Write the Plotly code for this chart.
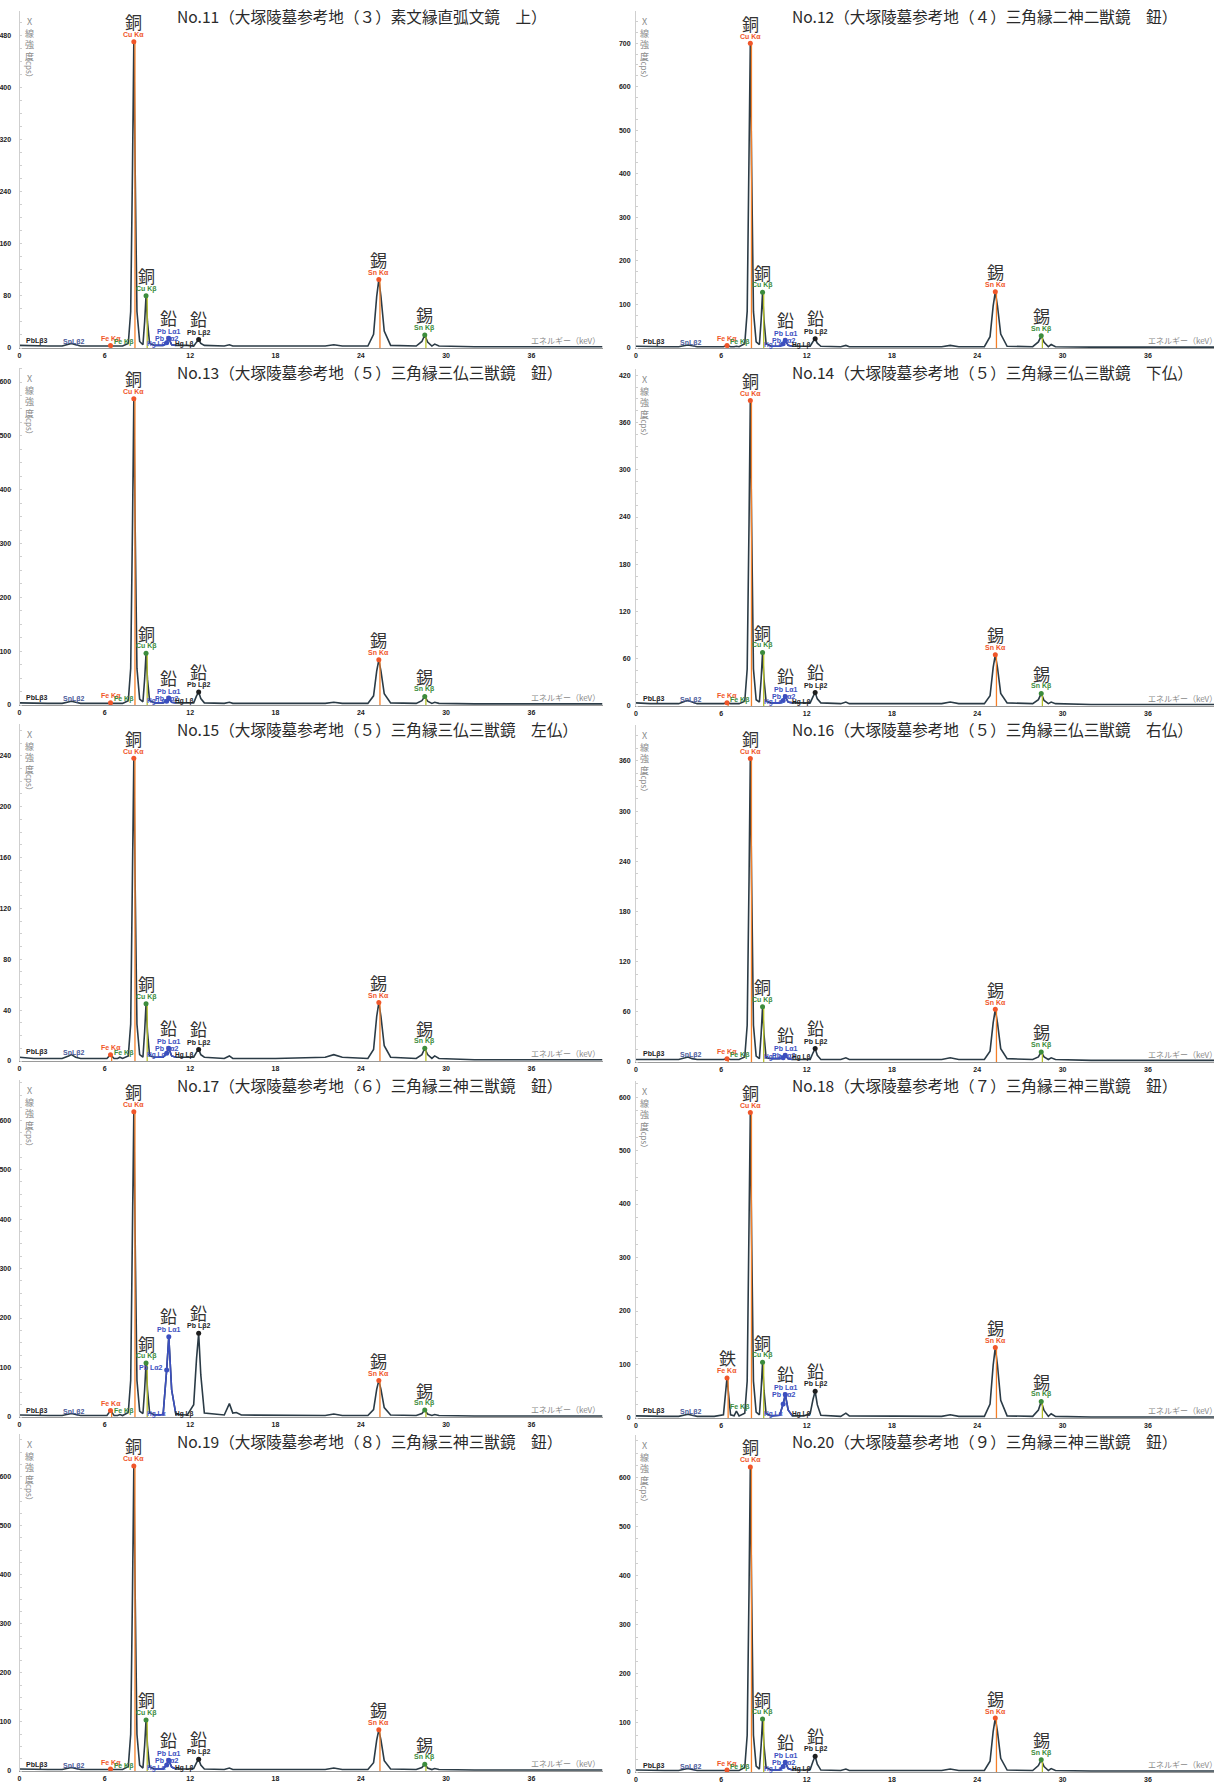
import plotly.graph_objects as go

FIG_W, FIG_H = 1216, 1783

# ---------------- data ----------------
titles = [
    "No.11（大塚陵墓参考地（３）素文縁直弧文鏡　上）",
    "No.12（大塚陵墓参考地（４）三角縁二神二獣鏡　鈕）",
    "No.13（大塚陵墓参考地（５）三角縁三仏三獣鏡　鈕）",
    "No.14（大塚陵墓参考地（５）三角縁三仏三獣鏡　下仏）",
    "No.15（大塚陵墓参考地（５）三角縁三仏三獣鏡　左仏）",
    "No.16（大塚陵墓参考地（５）三角縁三仏三獣鏡　右仏）",
    "No.17（大塚陵墓参考地（６）三角縁三神三獣鏡　鈕）",
    "No.18（大塚陵墓参考地（７）三角縁三神三獣鏡　鈕）",
    "No.19（大塚陵墓参考地（８）三角縁三神三獣鏡　鈕）",
    "No.20（大塚陵墓参考地（９）三角縁三神三獣鏡　鈕）",
]

energy_keV = [
    0.0, 1.0, 2.0, 3.0, 3.45, 3.65, 3.95, 4.3, 5.5, 6.15,
    6.40, 6.65, 6.90, 7.06, 7.25, 7.65, 7.82, 7.95, 8.04, 8.13,
    8.26, 8.45, 8.68, 8.80, 8.90, 9.00, 9.15, 9.5, 10.1, 10.35,
    10.50, 10.70, 11.0, 11.8, 12.25, 12.45, 12.60, 12.75, 13.0, 14.4,
    14.76, 15.0, 15.25, 15.6, 18.0, 21.5, 22.1, 22.7, 24.5, 24.9,
    25.12, 25.27, 25.42, 25.65, 26.1, 27.9, 28.3, 28.5, 28.7, 29.0,
    29.2, 29.5, 32.0, 41.0,
]

counts_No11 = [4, 3, 3, 3, 6, 7, 5, 3, 3, 3, 4, 3, 3, 3, 3, 7, 56, 282, 470, 282,
               56, 10, 5, 40, 80, 40, 7, 4, 4, 8, 15, 5, 4, 4, 3, 9, 13, 7, 4, 3,
               5, 3, 3, 3, 3, 3, 5, 3, 3, 21, 79, 105, 79, 26, 4, 3, 10, 20, 9, 3,
               6, 3, 2, 2]
counts_No12 = [4, 3, 3, 3, 6, 7, 5, 3, 3, 3, 6, 3, 3, 4, 3, 10, 84, 420, 700, 420,
               84, 14, 8, 64, 128, 64, 10, 4, 4, 10, 18, 6, 4, 4, 4, 15, 21, 11, 4, 3,
               6, 3, 3, 3, 3, 3, 6, 3, 3, 26, 97, 129, 97, 32, 4, 3, 14, 28, 13, 3,
               8, 3, 2, 2]
counts_No13 = [4, 3, 3, 3, 6, 7, 5, 3, 3, 3, 4, 3, 3, 3, 3, 8, 68, 341, 569, 341,
               68, 11, 6, 48, 96, 48, 8, 4, 4, 7, 13, 5, 4, 4, 4, 17, 24, 12, 4, 3,
               5, 3, 3, 3, 3, 3, 5, 3, 3, 17, 63, 84, 63, 21, 4, 3, 8, 16, 7, 3,
               5, 3, 2, 2]
counts_No14 = [4, 3, 3, 3, 6, 7, 5, 3, 3, 3, 4, 3, 3, 3, 3, 6, 47, 233, 388, 233,
               47, 8, 5, 34, 68, 34, 6, 4, 4, 7, 12, 5, 4, 4, 4, 12, 17, 9, 4, 3,
               5, 3, 3, 3, 3, 3, 5, 3, 3, 13, 49, 65, 49, 16, 4, 3, 8, 16, 7, 3,
               5, 3, 2, 2]
counts_No15 = [3, 2, 2, 2, 4, 5, 3, 2, 2, 2, 5, 2, 2, 3, 2, 4, 29, 143, 238, 143,
               29, 5, 3, 23, 45, 23, 4, 3, 3, 6, 10, 4, 3, 3, 3, 7, 9, 5, 3, 2,
               4, 2, 2, 2, 2, 3, 5, 3, 2, 9, 35, 46, 35, 12, 3, 2, 5, 10, 5, 2,
               4, 2, 1, 1]
counts_No16 = [3, 3, 3, 3, 5, 6, 4, 3, 3, 3, 4, 3, 3, 3, 3, 6, 44, 218, 363, 218,
               44, 7, 4, 33, 66, 33, 5, 4, 4, 5, 8, 4, 3, 3, 3, 11, 16, 8, 3, 3,
               5, 3, 3, 3, 3, 3, 5, 3, 3, 13, 47, 63, 47, 16, 4, 3, 6, 12, 6, 3,
               5, 3, 2, 2]
counts_No17 = [4, 3, 3, 3, 6, 7, 5, 3, 3, 3, 13, 3, 3, 5, 3, 9, 74, 370, 617, 370,
               74, 12, 7, 55, 109, 55, 9, 4, 5, 95, 162, 55, 5, 4, 25, 118, 169, 85, 8, 4,
               27, 8, 9, 4, 3, 3, 6, 3, 3, 15, 56, 74, 56, 19, 4, 3, 7, 14, 6, 3,
               5, 3, 2, 2]
counts_No18 = [4, 3, 3, 3, 6, 7, 5, 3, 3, 6, 75, 6, 4, 13, 4, 9, 69, 343, 571, 343,
               69, 11, 6, 52, 104, 52, 8, 4, 5, 26, 44, 15, 4, 4, 8, 35, 50, 25, 5, 3,
               9, 4, 4, 3, 3, 3, 6, 3, 3, 26, 99, 132, 99, 33, 4, 3, 15, 31, 14, 3,
               8, 3, 2, 2]
counts_No19 = [4, 3, 3, 3, 6, 7, 5, 3, 3, 3, 4, 3, 3, 3, 3, 9, 75, 373, 622, 373,
               75, 12, 6, 52, 104, 52, 8, 4, 4, 12, 22, 8, 4, 4, 5, 17, 24, 12, 4, 3,
               6, 3, 3, 3, 3, 3, 6, 3, 3, 17, 63, 84, 63, 21, 4, 3, 7, 14, 6, 3,
               5, 3, 2, 2]
counts_No20 = [4, 3, 3, 3, 6, 7, 5, 3, 3, 3, 4, 3, 3, 3, 3, 9, 75, 373, 622, 373,
               75, 12, 6, 54, 108, 54, 9, 4, 4, 11, 20, 7, 4, 4, 5, 22, 32, 16, 4, 3,
               6, 3, 3, 3, 3, 3, 6, 3, 3, 22, 83, 110, 83, 28, 4, 3, 13, 25, 11, 3,
               7, 3, 2, 2]

spectra = [counts_No11, counts_No12, counts_No13, counts_No14, counts_No15,
           counts_No16, counts_No17, counts_No18, counts_No19, counts_No20]

# characteristic line energies (keV)
E_FE_KA, E_FE_KB = 6.40, 7.06
E_CU_KA, E_CU_KB = 8.04, 8.90
E_PB_LA1, E_PB_LA2, E_PB_LB = 10.50, 10.35, 12.60
E_SN_KA, E_SN_KB = 25.27, 28.50

# peak heights (cps) per panel
cu_ka_cps = [470, 700, 569, 388, 238, 363, 617, 571, 622, 622]
cu_kb_cps = [80, 128, 96, 68, 45, 66, 109, 104, 104, 108]
pb_la1_cps = [15, 18, 13, 12, 10, 8, 162, 44, 22, 20]
pb_la2_cps = [8, 10, 7, 7, 6, 5, 95, 26, 12, 11]
pb_lb_cps = [13, 21, 24, 17, 9, 16, 169, 50, 24, 32]
sn_ka_cps = [105, 129, 84, 65, 46, 63, 74, 132, 84, 110]
sn_kb_cps = [20, 28, 16, 16, 10, 12, 14, 31, 14, 25]
fe_ka_cps = [4, 6, 4, 4, 5, 4, 13, 75, 4, 4]
fe_kb_cps = [3, 4, 3, 3, 3, 3, 5, 13, 3, 3]

# y axis tick scheme per panel
y_tick_top = [480, 700, 600, 420, 240, 360, 600, 600, 600, 600]
y_tick_step = [80, 100, 100, 60, 40, 60, 100, 100, 100, 100]
x_ticks = [0, 6, 12, 18, 24, 30, 36]

# ---------------- layout geometry (pixels) ----------------
y_axis_max = [517, 774, 626, 428, 265, 403, 681, 630, 687, 687]
baseline_px = [348, 348, 705, 706, 1061, 1062, 1417, 1418, 1771, 1772]
title_px = [16, 16, 372, 372, 729, 729, 1085, 1085, 1441, 1441]
PLOT_H = 337
LEFT_X0, LEFT_X1, LEFT_XMAX = 19.5, 602.5, 41.0
RIGHT_X0, RIGHT_X1, RIGHT_XMAX = 636.0, 1214.0, 40.65

LINE_COL = "#2b3b46"
KA_COL = "#f0562a"
KB_COL = "#3c8c3c"
PB_A_COL = "#3b4fbf"
PB_B_COL = "#1e1e1e"
VL_KA = "#f5802a"
VL_KB = "#b8c12a"
GREY = "#8a8a8a"
JP = "Noto Sans CJK JP"
SMALL = "Liberation Sans, Arial"

fig = go.Figure()
annotations = []
layout_axes = {}


def axnames(i):
    return ("x" if i == 0 else f"x{i+1}"), ("y" if i == 0 else f"y{i+1}")


def px_x(p):
    return p / FIG_W


def px_y(p):
    return 1 - p / FIG_H


for i in range(10):
    xr, yr = axnames(i)
    left = (i % 2 == 0)
    x0, x1, xmax = (LEFT_X0, LEFT_X1, LEFT_XMAX) if left else (RIGHT_X0, RIGHT_X1, RIGHT_XMAX)
    b = baseline_px[i]
    xkey = "xaxis" if i == 0 else f"xaxis{i+1}"
    ykey = "yaxis" if i == 0 else f"yaxis{i+1}"
    layout_axes[xkey] = dict(
        domain=[px_x(x0), px_x(x1)], range=[0, xmax], anchor=yr,
        tickvals=x_ticks, ticktext=[f"<b>{t}</b>" for t in x_ticks],
        tickfont=dict(size=7, color="#222", family=SMALL),
        showgrid=False, zeroline=False, showline=True, linecolor="#9a9a9a",
        linewidth=1, ticks="", ticklabelstandoff=1, fixedrange=True, automargin=False,
    )
    tv = list(range(0, y_tick_top[i] + 1, y_tick_step[i]))
    layout_axes[ykey] = dict(
        domain=[px_y(b), px_y(b - PLOT_H)], range=[0, y_axis_max[i]], anchor=xr,
        tickvals=tv, ticktext=[f"<b>{t}</b>" for t in tv],
        tickfont=dict(size=7, color="#222", family=SMALL),
        showgrid=False, zeroline=False, showline=True, linecolor="#cfcfcf",
        linewidth=1, ticks="", ticklabelstandoff=(6 if left else 3),
        minor=dict(ticks="inside", ticklen=2, tickcolor="#cfcfcf", dtick=y_tick_step[i] / 4),
        fixedrange=True, automargin=False,
    )

    spec = spectra[i]
    # spectrum
    fig.add_trace(go.Scatter(x=energy_keV, y=spec, mode="lines",
                             line=dict(color=LINE_COL, width=1.6),
                             xaxis=xr, yaxis=yr, showlegend=False, hoverinfo="skip"))
    # blue overlay on Pb L-alpha region
    fig.add_trace(go.Scatter(x=energy_keV[27:33], y=spec[27:33], mode="lines",
                             line=dict(color=PB_A_COL, width=1.6),
                             xaxis=xr, yaxis=yr, showlegend=False, hoverinfo="skip"))
    # vertical line markers for identified lines
    for e, h, c in [(E_CU_KA, cu_ka_cps[i], VL_KA), (E_CU_KB, cu_kb_cps[i], VL_KB),
                    (E_SN_KA, sn_ka_cps[i], VL_KA), (E_SN_KB, sn_kb_cps[i], VL_KB),
                    (E_FE_KA, fe_ka_cps[i], VL_KA)]:
        fig.add_trace(go.Scatter(x=[e + 0.08, e + 0.08], y=[0, h], mode="lines",
                                 line=dict(color=c, width=1.3),
                                 xaxis=xr, yaxis=yr, showlegend=False, hoverinfo="skip"))
    # peak dots
    fig.add_trace(go.Scatter(
        x=[E_CU_KA, E_CU_KB, E_PB_LA1, E_PB_LA2, E_PB_LB, E_SN_KA, E_SN_KB, E_FE_KA],
        y=[cu_ka_cps[i], cu_kb_cps[i], pb_la1_cps[i], pb_la2_cps[i], pb_lb_cps[i],
           sn_ka_cps[i], sn_kb_cps[i], fe_ka_cps[i]],
        mode="markers",
        marker=dict(size=5, color=[KA_COL, KB_COL, PB_A_COL, PB_A_COL, PB_B_COL,
                                   KA_COL, KB_COL, KA_COL]),
        xaxis=xr, yaxis=yr, showlegend=False, hoverinfo="skip"))

    def ann(x, y, text, color, size, yshift=0, xshift=0, family=SMALL, xanchor="center"):
        annotations.append(dict(x=x, y=y, xref=xr, yref=yr, text=text, showarrow=False,
                                font=dict(color=color, size=size, family=family),
                                yshift=yshift, xshift=xshift, xanchor=xanchor,
                                yanchor="middle"))

    # line labels
    ann(E_CU_KA, cu_ka_cps[i], "<b>Cu Kα</b>", KA_COL, 7, yshift=7)
    ann(E_CU_KA, cu_ka_cps[i], "銅", "#333", 17, yshift=20, family=JP)
    ann(E_CU_KB, cu_kb_cps[i], "<b>Cu Kβ</b>", KB_COL, 7, yshift=7)
    ann(E_CU_KB, cu_kb_cps[i], "銅", "#333", 17, yshift=20, family=JP)
    ann(E_PB_LA1, pb_la1_cps[i], "<b>Pb Lα1</b>", PB_A_COL, 7, yshift=7)
    if pb_la1_cps[i] - pb_la2_cps[i] > 40:
        ann(E_PB_LA2, pb_la2_cps[i], "<b>Pb Lα2</b>", PB_A_COL, 7, yshift=2,
            xshift=-3, xanchor="right")
    else:
        ann(E_PB_LA1, pb_la1_cps[i], "<b>Pb Lα2</b>", PB_A_COL, 7, yshift=0, xshift=-2)
    ann(E_PB_LA1, pb_la1_cps[i], "鉛", "#333", 17, yshift=21, family=JP)
    ann(E_PB_LB, pb_lb_cps[i], "<b>Pb Lβ2</b>", PB_B_COL, 7, yshift=7)
    ann(E_PB_LB, pb_lb_cps[i], "鉛", "#333", 17, yshift=21, family=JP)
    ann(E_SN_KA, sn_ka_cps[i], "<b>Sn Kα</b>", KA_COL, 7, yshift=7)
    ann(E_SN_KA, sn_ka_cps[i], "錫", "#333", 17, yshift=20, family=JP)
    ann(E_SN_KB, sn_kb_cps[i], "<b>Sn Kβ</b>", KB_COL, 7, yshift=7)
    ann(E_SN_KB, sn_kb_cps[i], "錫", "#333", 17, yshift=20, family=JP)
    ann(E_FE_KA, fe_ka_cps[i], "<b>Fe Kα</b>", KA_COL, 7, yshift=7)
    ann(E_FE_KB, fe_kb_cps[i], "<b>Fe Kβ</b>", KB_COL, 7, yshift=4, xshift=4)
    if fe_ka_cps[i] > 40:
        ann(E_FE_KA, fe_ka_cps[i], "鉄", "#333", 17, yshift=20, family=JP)
    # small baseline labels
    ann(1.2, 3, "<b>PbLβ3</b>", "#222", 7, yshift=5)
    ann(3.8, 3, "<b>SnLβ2</b>", "#4a5a9a", 7, yshift=4)
    ann(9.6, 3, "<b>Hg Lα</b>", PB_A_COL, 6.5, yshift=2)
    ann(11.6, 3, "<b>Hg Lβ</b>", "#222", 6.5, yshift=2)
    # energy axis caption
    ann(38.4, 0, "エネルギー（keV）", GREY, 8, yshift=8, family=JP)

    # y axis caption (vertical)
    cap_x = (x0 + 10) if left else (x0 + 8)
    annotations.append(dict(x=px_x(cap_x), y=px_y(b - PLOT_H + 2), xref="paper", yref="paper",
                            text="X<br>線<br>強<br>度", showarrow=False, xanchor="center",
                            yanchor="top", font=dict(size=9, color=GREY, family=JP)))
    annotations.append(dict(x=px_x(cap_x), y=px_y(b - PLOT_H + 40), xref="paper", yref="paper",
                            text="（cps）", textangle=90, showarrow=False, xanchor="center",
                            yanchor="top", font=dict(size=8, color=GREY, family=JP)))
    # panel title
    tx = 175 if left else 790
    annotations.append(dict(x=px_x(tx), y=px_y(title_px[i]), xref="paper", yref="paper",
                            text=titles[i], showarrow=False, xanchor="left", yanchor="middle",
                            font=dict(size=15.6, color="#2a2a2a", family=JP)))

fig.update_layout(
    width=FIG_W, height=FIG_H,
    margin=dict(l=0, r=0, t=0, b=0, pad=0, autoexpand=False),
    paper_bgcolor="white", plot_bgcolor="white",
    annotations=annotations, showlegend=False, **layout_axes,
)

fig.write_html("out.html", config={"displayModeBar": False},
               post_script="document.body.style.margin='0';document.body.style.overflow='hidden';")
